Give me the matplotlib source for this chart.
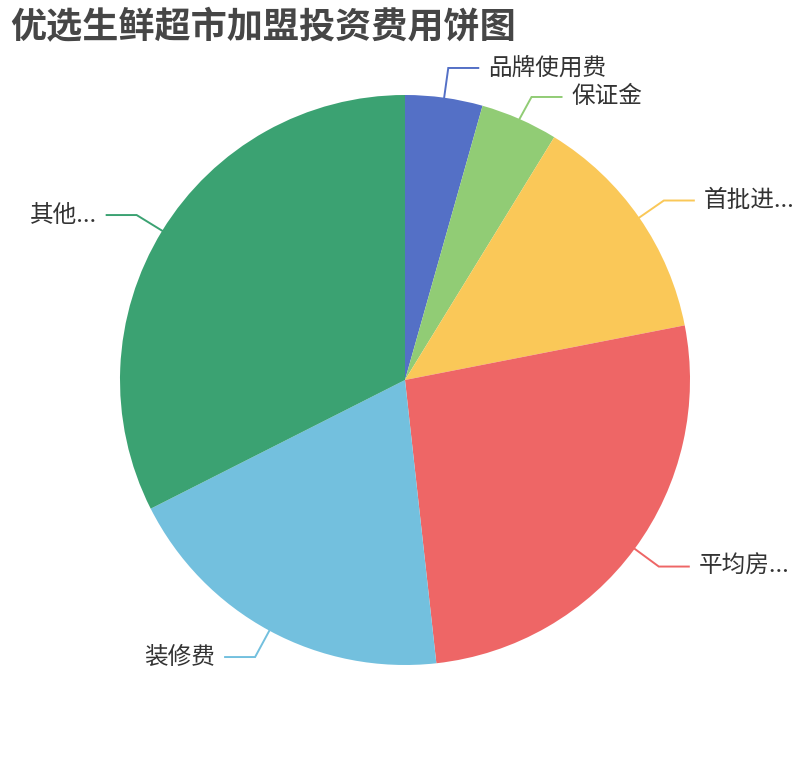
import numpy as np
import matplotlib
matplotlib.use('Agg')
import matplotlib.pyplot as plt

plt.rcParams['font.family'] = ['Noto Sans CJK SC', 'DejaVu Sans']

# ====== DATOS ======
titulo = '优选生鲜超市加盟投资费用饼图'
etiquetas = ['品牌使用费', '保证金', '首批进...', '平均房...', '装修费', '其他...']
valores = [2, 2, 6, 12, 8.8, 14.8]
colores = ['#5470c6', '#91cc75', '#fac858', '#ee6666', '#73c0de', '#3ba272']

# ====== FIGURA (coordenadas en pixeles) ======
W, H = 810, 760
fig = plt.figure(figsize=(W / 100, H / 100), dpi=100)
ax = fig.add_axes([0, 0, 1, 1])
ax.axis('off')

cx, cy, r = 405, 380, 285
ax.pie(valores, colors=colores, startangle=90, counterclock=False,
       center=(cx, cy), radius=r, wedgeprops=dict(linewidth=0))
ax.set_xlim(0, W)
ax.set_ylim(0, H)
ax.set_aspect('auto')

# ====== ETIQUETAS CON LINEAS ======
total = sum(valores)
acum = np.cumsum([0] + valores)
medio = (acum[:-1] + acum[1:]) / 2 / total * 2 * np.pi  # angulo horario desde arriba

items = []
for i, a in enumerate(medio):
    px, py = cx + r * np.sin(a), cy + r * np.cos(a)
    qx, qy = cx + (r + 30) * np.sin(a), cy + (r + 30) * np.cos(a)
    lado = 1 if np.sin(a) >= 0 else -1
    items.append([i, px, py, qx, qy, lado])

# evitar solapamiento (de arriba hacia abajo por lado)
for lado in (1, -1):
    grupo = sorted([it for it in items if it[5] == lado], key=lambda it: -it[4])
    for k in range(1, len(grupo)):
        if grupo[k - 1][4] - grupo[k][4] < 29:
            grupo[k][4] = grupo[k - 1][4] - 29

for i, px, py, qx, qy, lado in items:
    ex = qx + 30 * lado
    ax.plot([px, qx, ex], [py, qy, qy], color=colores[i], lw=1.4,
            solid_joinstyle='miter', zorder=3)
    ax.text(ex + 10 * lado, qy, etiquetas[i], ha='left' if lado > 0 else 'right',
            va='center', fontsize=17, color='#333333')

fig.text(10 / W, 1 - 28 / H, titulo, ha='left', va='center', fontsize=26,
         fontweight='bold', color='#464646')

fig.savefig('out.png', dpi=100)
